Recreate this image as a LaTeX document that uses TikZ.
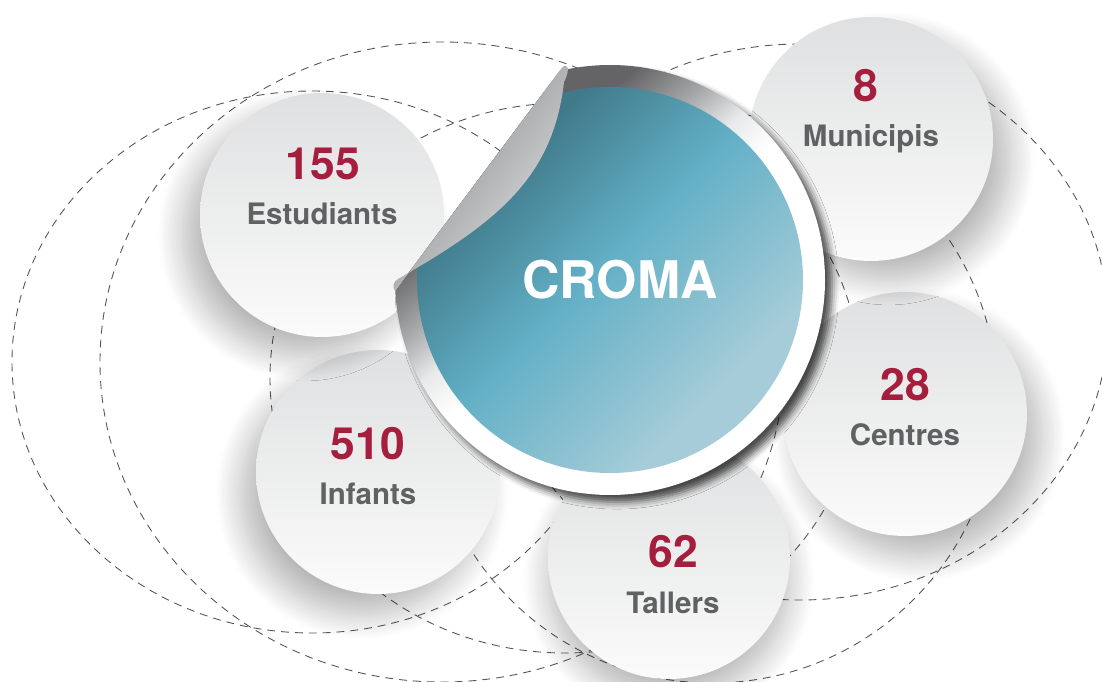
\documentclass[tikz,border=0pt]{standalone}
\usepackage{fontspec}
\setmainfont{TeX Gyre Heros}
\usetikzlibrary{shadows.blur}

\definecolor{numred}{RGB}{166,30,61}
\definecolor{labgray}{RGB}{96,97,99}
\definecolor{dashgray}{RGB}{85,85,88}
\definecolor{balltop}{RGB}{223,224,225}
\definecolor{ballbot}{RGB}{251,251,251}
\definecolor{tealdark}{RGB}{64,122,138}
\definecolor{tealmid}{RGB}{99,176,198}
\definecolor{teallight}{RGB}{165,204,216}
\definecolor{ringdark}{RGB}{100,100,103}
\definecolor{ringmid}{RGB}{170,171,173}
\definecolor{ringlight}{RGB}{232,233,234}
\definecolor{flapdark}{RGB}{128,129,131}
\definecolor{flaplight}{RGB}{226,227,228}

\pgfdeclareverticalshading{ringshade}{100bp}{color(0bp)=(white); color(50bp)=(white);
  color(55bp)=(ringlight); color(60bp)=(ringmid); color(67bp)=(ringdark); color(100bp)=(ringdark)}
\pgfdeclareverticalshading{tealshade}{100bp}{color(0bp)=(teallight); color(30bp)=(teallight);
  color(52bp)=(tealmid); color(70bp)=(tealdark); color(100bp)=(tealdark)}

\newcommand{\numfont}{\fontsize{25.3}{30}\selectfont\bfseries}
\newcommand{\labfont}{\fontsize{16.8}{20}\selectfont\bfseries}
\newcommand{\cromafont}{\fontsize{29.5}{34}\selectfont\bfseries}

\begin{document}
\begin{tikzpicture}[x=0.02cm, y=-0.02cm,
    orbit/.style={draw=dashgray, line width=0.5pt, dash pattern=on 4.5pt off 3.4pt},
    ball/.style={circle, minimum size=4.88cm, inner sep=0pt, outer sep=0pt,
      top color=balltop, bottom color=ballbot},
    ballshadow/.style 2 args={blur shadow={shadow xshift=#1, shadow yshift=#2,
      shadow blur radius=14pt, shadow blur steps=20, shadow opacity=28}},
    numtext/.style={anchor=base, text=numred, font=\numfont},
    labtext/.style={anchor=base, text=labgray, font=\labfont}]

  \useasboundingbox (0,0) rectangle (1102,682);

  % dashed orbits behind everything
  \draw[orbit] (312,362) ellipse [x radius=300, y radius=271];
  \draw[orbit] (442,362) ellipse [x radius=342, y radius=320];
  \draw[orbit] (565,378) ellipse [x radius=295, y radius=275];
  \draw[orbit] (800,322) ellipse [x radius=308, y radius=278];
  \draw[orbit] (712,398) circle [radius=285];

  % grey balls
  \node[ball, ballshadow={0pt}{-12pt}, minimum size=4.84cm] (tallers) at (669,558) {};
  \node[ball, ballshadow={8pt}{-12pt}] (centres) at (905,414) {};
  \node[ball, ballshadow={-9pt}{-12pt}] (infants) at (378,472) {};
  \node[ball, ballshadow={-10pt}{-11pt}] (estudiants) at (322,215) {};
  \node[ball, ballshadow={10pt}{-11pt}] (municipis) at (871,139) {};

  \node[numtext] (n-est) at (323,180) {155};
  \node[labtext] (l-est) at (322,225) {Estudiants};
  \node[numtext] (n-mun) at (866,102) {8};
  \node[labtext] (l-mun) at (871,147) {Municipis};
  \node[numtext] (n-cen) at (905,400) {28};
  \node[labtext] (l-cen) at (905,445) {Centres};
  \node[numtext] (n-inf) at (368,459) {510};
  \node[labtext] (l-inf) at (368,504) {Infants};
  \node[numtext] (n-tal) at (673,567) {62};
  \node[labtext] (l-tal) at (673,613) {Tallers};

  % sticker, cut along the fold
  \begin{scope}
    \clip (330,378) -- (609,5) -- (900,5) -- (900,560) -- (330,560) -- cycle;
    \path[shading=ringshade, shading angle=40,
      blur shadow={shadow xshift=4pt, shadow yshift=-4pt, shadow blur radius=4pt, shadow opacity=70}]
      (610,280) circle [radius=215];
    \path[shading=tealshade, shading angle=45] (610,280) circle [radius=193];
  \end{scope}

  % peeled corner
  \path[top color=flapdark, bottom color=flaplight, shading angle=52]
    (395,291) -- (561,69) .. controls (566,62) and (572,66) .. (564,82)
    .. controls (553,178) and (497,222) .. (398,279)
    .. controls (393,282) and (392,287) .. cycle;

  \node[anchor=base, text=white, font=\cromafont] (croma) at (620,298) {CROMA};
\end{tikzpicture}
\end{document}
